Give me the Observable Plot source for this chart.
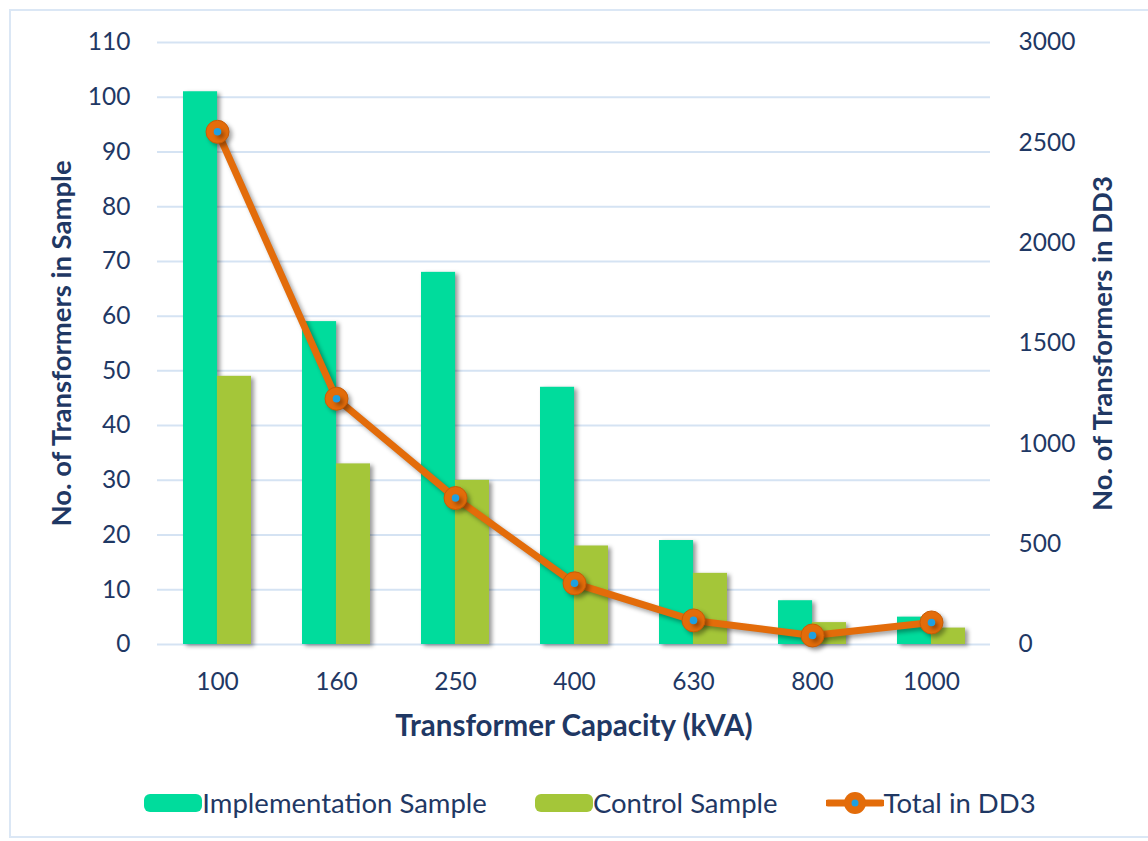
<!DOCTYPE html>
<html><head><meta charset="utf-8">
<script src="https://cdn.jsdelivr.net/npm/d3@7"></script>
<script src="https://cdn.jsdelivr.net/npm/@observablehq/plot@0.6"></script>
<style>
body{margin:0;background:#fff;font-family:Lato, "Open Sans", sans-serif;}
#wrap{position:relative;width:1148px;height:841px;overflow:hidden;}
#frame{position:absolute;left:9px;top:9px;width:1150px;height:829px;border:2px solid #dbe7f5;box-sizing:border-box;pointer-events:none;}
#chart{position:absolute;left:0;top:0;}
#legend{position:absolute;top:786px;left:16px;width:1148px;display:flex;justify-content:center;align-items:center;gap:48px;color:#1f3864;font-size:27.5px;}
.item{display:flex;align-items:center;}
.sw{width:58px;height:18px;border-radius:6px;}
g[aria-label="bar"]{filter:drop-shadow(3px 2px 2px rgba(0,0,0,0.4));}
g[aria-label="line"], g[aria-label="dot"]{filter:drop-shadow(3px 3px 2px rgba(0,0,0,0.35));}
</style></head>
<body>
<div id="wrap">
  <div id="chart"></div>
  <div id="frame"></div>
  <div id="legend"></div>
</div>
<script>
const capacities = ["100","160","250","400","630","800","1000"];
const implementation = [101, 59, 68, 47, 19, 8, 5];
const control = [49, 33, 30, 18, 13, 4, 3];
const totalDD3 = [2555, 1225, 730, 305, 120, 45, 110];
const leftTicks = [0,10,20,30,40,50,60,70,80,90,100,110];
const rightTicks = [0,500,1000,1500,2000,2500,3000];
const leftMax = 110, rightMax = 3000;

const navy = "#1f3864";
const cImpl = "#00dc9c", cCtrl = "#a4c639", cLine = "#e36c0a", cDot = "#1ea0e0";
const toLeft = v => v * leftMax / rightMax;

const rows = capacities.map((c, i) => ({cap: c, impl: implementation[i], ctrl: control[i], total: totalDD3[i], totalL: toLeft(totalDD3[i])}));

const width = 1148, mL = 157, mR = 158;
const padIn = 0.43;
const step = (width - mL - mR) / capacities.length;
const half = step * (1 - padIn) / 2;

const plot = Plot.plot({
  width, height: 760,
  marginLeft: mL, marginRight: mR, marginTop: 42, marginBottom: 116,
  style: {fontFamily: "Lato, 'Open Sans', sans-serif", fontSize: "24px", color: navy, background: "transparent"},
  x: {domain: capacities, paddingInner: padIn, paddingOuter: padIn / 2},
  y: {domain: [0, leftMax]},
  marks: [
    Plot.gridY(leftTicks, {stroke: "#d5e3f3", strokeOpacity: 1, strokeWidth: 2}),
    Plot.barY(rows, {x: "cap", y: "impl", fill: cImpl, insetRight: half}),
    Plot.barY(rows, {x: "cap", y: "ctrl", fill: cCtrl, insetLeft: half}),
    Plot.axisY(leftTicks, {anchor: "left", tickSize: 0, tickPadding: 27, label: null, fontSize: 24.5}),
    Plot.axisY(rightTicks.map(toLeft), {anchor: "right", tickSize: 0, tickPadding: 28, label: null, fontSize: 24.5,
      tickFormat: d => String(Math.round(d * rightMax / leftMax))}),
    Plot.axisX({tickSize: 0, tickPadding: 28, label: null, fontSize: 24.5}),
    Plot.line(rows, {x: "cap", y: "totalL", stroke: cLine, strokeWidth: 7, strokeLinejoin: "round"}),
    Plot.dot(rows, {x: "cap", y: "totalL", r: 11.5, fill: cLine, stroke: "#c85c06", strokeWidth: 1}),
    Plot.dot(rows, {x: "cap", y: "totalL", r: 3.8, fill: cDot}),
    Plot.text(["No. of Transformers in Sample"], {frameAnchor: "left", dx: -95, rotate: -90, textAnchor: "middle", fontWeight: "bold", fontSize: 27.5, fill: navy}),
    Plot.text(["No. of Transformers in DD3"], {frameAnchor: "right", dx: 113, rotate: -90, textAnchor: "middle", fontWeight: "bold", fontSize: 27.5, fill: navy}),
    Plot.text(["Transformer Capacity (kVA)"], {frameAnchor: "bottom", dy: 91, fontWeight: "bold", fontSize: 29.5, fill: navy})
  ]
});
document.getElementById("chart").appendChild(plot);

const legendItems = [
  {label: "Implementation Sample", type: "bar", color: cImpl},
  {label: "Control Sample", type: "bar", color: cCtrl},
  {label: "Total in DD3", type: "line", color: cLine}
];
const lg = document.getElementById("legend");
for (const it of legendItems) {
  const d = document.createElement("div");
  d.className = "item";
  if (it.type === "bar") {
    d.innerHTML = `<div class="sw" style="background:${it.color}"></div><span>${it.label}</span>`;
  } else {
    d.innerHTML = `<svg width="58" height="26"><line x1="2" x2="56" y1="13" y2="13" stroke="${it.color}" stroke-width="7" stroke-linecap="round"/><circle cx="29" cy="13" r="11" fill="${it.color}"/><circle cx="29" cy="13" r="3.5" fill="${cDot}"/></svg><span>${it.label}</span>`;
  }
  lg.appendChild(d);
}
</script>
</body></html>
